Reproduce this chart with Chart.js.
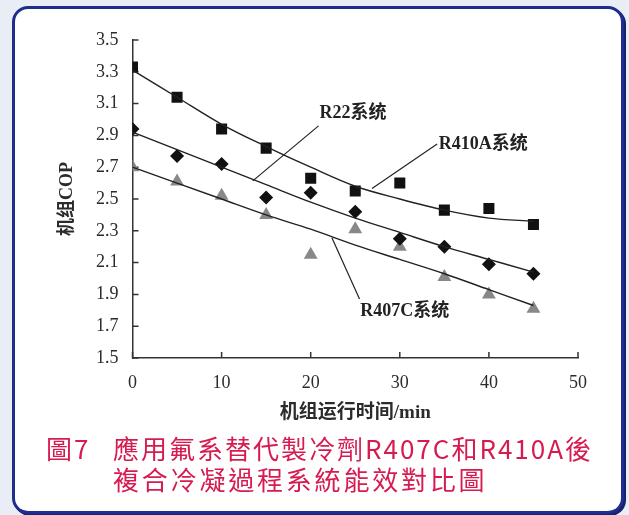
<!DOCTYPE html>
<html>
<head>
<meta charset="utf-8">
<script src="https://cdn.jsdelivr.net/npm/chart.js@4.4.1/dist/chart.umd.min.js"></script>
<style>
  html, body { margin: 0; padding: 0; }
  body { width: 629px; height: 515px; background: #e9edf5; position: relative; overflow: hidden; }
  .frame {
    position: absolute; left: 12px; top: 6px; width: 606px; height: 502px;
    background: #fff; border: 3px solid #1f2d8e; border-radius: 16px;
    box-shadow: 2px 2px 0 #17236e;
  }
  .plot { position: absolute; left: 0; top: 0; width: 629px; height: 430px; }
  .cap {
    position: absolute; font-family: 'Noto Sans CJK TC', 'Noto Sans', sans-serif;
    font-size: 26px; line-height: 30px; color: #d61b50; white-space: nowrap;
  }
</style>
</head>
<body>
<div class="frame"></div>
<div class="plot"><canvas id="chart"></canvas></div>
<div class="cap" style="left:46px; top:433px; letter-spacing:2px;">圖7</div>
<div class="cap" style="left:113px; top:433px; letter-spacing:2px;">應用氟系替代製冷劑R407C和R410A後</div>
<div class="cap" style="left:113px; top:464px; letter-spacing:2.8px;">複合冷凝過程系統能效對比圖</div>
<script>
// 机组运行时间 (min)
const times = [0, 5, 10, 15, 20, 25, 30, 35, 40, 45];

// measured COP
const r410aCop = [3.33, 3.14, 2.94, 2.82, 2.63, 2.55, 2.60, 2.43, 2.44, 2.34];
const r22Cop = [2.94, 2.77, 2.72, 2.51, 2.54, 2.42, 2.25, 2.20, 2.09, 2.03];
const r407cCop = [2.70, 2.61, 2.52, 2.40, 2.15, 2.31, 2.20, 2.01, 1.90, 1.81];

// fitted trend curves as drawn in the figure
const r410aFit = [3.31, 3.14, 2.97, 2.83, 2.70, 2.58, 2.50, 2.43, 2.38, 2.36];
const r22Fit = [2.92, 2.81, 2.70, 2.59, 2.48, 2.38, 2.29, 2.20, 2.12, 2.04];
const r407cFit = [2.70, 2.60, 2.50, 2.40, 2.31, 2.21, 2.12, 2.03, 1.93, 1.83];

const seriesNames = ['R22系统', 'R410A系统', 'R407C系统'];

const serif = "'Liberation Serif', 'Times New Roman', 'Noto Sans CJK SC', serif";
const ink = '#222';

// callout labels with leader lines, in data units
const callouts = [
  { text: seriesNames[0], from: [13.5, 2.614], to: [20.88, 2.96], at: [21.0, 3.04] },
  { text: seriesNames[1], from: [26.88, 2.566], to: [34.19, 2.846], at: [34.36, 2.846] },
  { text: seriesNames[2], from: [22.38, 2.256], to: [25.48, 1.871], at: [25.56, 1.792] }
];

const pts = ys => times.map((x, i) => ({ x, y: ys[i] }));

function marks(label, ys, style, color, radius) {
  return {
    label, data: pts(ys), showLine: false,
    pointStyle: style, pointRadius: radius, pointHoverRadius: radius,
    backgroundColor: color, borderColor: color, borderWidth: 0
  };
}

function curve(label, ys) {
  return {
    label, data: pts(ys), showLine: true, pointRadius: 0, pointHoverRadius: 0,
    borderColor: ink, borderWidth: 1.4, cubicInterpolationMode: 'monotone', fill: false
  };
}

const innerTicks = {
  id: 'innerTicks',
  beforeDatasetsDraw(chart) {
    const { ctx, scales: { x, y }, chartArea } = chart;
    ctx.save();
    ctx.strokeStyle = '#333';
    ctx.lineWidth = 1.5;
    ctx.beginPath();
    y.ticks.forEach(t => {
      const py = y.getPixelForValue(t.value);
      ctx.moveTo(chartArea.left, py);
      ctx.lineTo(chartArea.left + 6, py);
    });
    x.ticks.forEach(t => {
      const px = x.getPixelForValue(t.value);
      ctx.moveTo(px, chartArea.bottom);
      ctx.lineTo(px, chartArea.bottom - 6);
    });
    ctx.stroke();
    ctx.restore();
  }
};

const calloutPlugin = {
  id: 'callouts',
  afterDatasetsDraw(chart) {
    const { ctx, scales: { x, y } } = chart;
    ctx.save();
    ctx.strokeStyle = ink;
    ctx.lineWidth = 1.2;
    ctx.fillStyle = ink;
    ctx.font = 'bold 18px ' + serif;
    ctx.textBaseline = 'middle';
    callouts.forEach(c => {
      ctx.beginPath();
      ctx.moveTo(x.getPixelForValue(c.from[0]), y.getPixelForValue(c.from[1]));
      ctx.lineTo(x.getPixelForValue(c.to[0]), y.getPixelForValue(c.to[1]));
      ctx.stroke();
      ctx.fillText(c.text, x.getPixelForValue(c.at[0]), y.getPixelForValue(c.at[1]));
    });
    ctx.restore();
  }
};

new Chart(document.getElementById('chart'), {
  type: 'scatter',
  data: {
    datasets: [
      curve(seriesNames[1] + ' 拟合', r410aFit),
      curve(seriesNames[0] + ' 拟合', r22Fit),
      curve(seriesNames[2] + ' 拟合', r407cFit),
      marks(seriesNames[1], r410aCop, 'rect', '#111', 7.8),
      marks(seriesNames[0], r22Cop, 'rectRot', '#111', 7),
      marks(seriesNames[2], r407cCop, 'triangle', '#888', 8)
    ]
  },
  options: {
    responsive: true,
    maintainAspectRatio: false,
    animation: false,
    layout: { padding: { left: 50, right: 51, top: 40, bottom: 0 } },
    plugins: { legend: { display: false }, tooltip: { enabled: false } },
    scales: {
      x: {
        type: 'linear', min: 0, max: 50,
        afterFit: s => { s.height = 72; },
        ticks: { stepSize: 10, padding: 14, color: '#2b2b2b', font: { family: serif, size: 18 } },
        grid: { drawOnChartArea: false, drawTicks: false },
        border: { display: true, color: '#333', width: 1.5 },
        title: {
          display: true, text: '机组运行时间/min', color: '#2b2b2b',
          font: { family: serif, size: 19, weight: 'bold' }, padding: { top: 0, bottom: 6 }
        }
      },
      y: {
        type: 'linear', min: 1.5, max: 3.5,
        afterFit: s => { s.width = 82.5; },
        ticks: {
          stepSize: 0.2, padding: 14, color: '#2b2b2b', font: { family: serif, size: 18 },
          callback: v => Number(v).toFixed(1)
        },
        grid: { drawOnChartArea: false, drawTicks: false },
        border: { display: true, color: '#333', width: 1.5 },
        title: {
          display: true, text: '机组COP', color: '#2b2b2b',
          font: { family: serif, size: 18, weight: 'bold' }, padding: { top: 7, bottom: 0 }
        }
      }
    }
  },
  plugins: [innerTicks, calloutPlugin]
});
</script>
</body>
</html>
